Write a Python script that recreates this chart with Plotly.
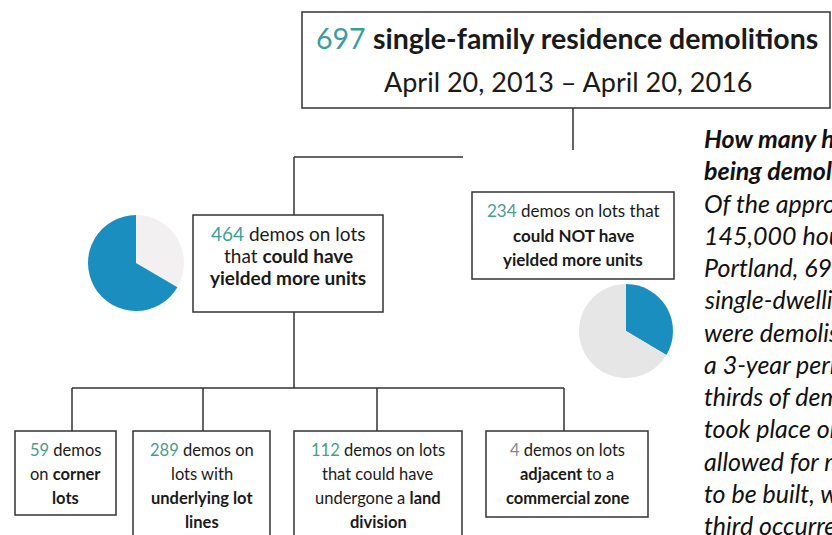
import plotly.graph_objects as go

# ---------------- data ----------------
total_demos = 697
period = "April 20, 2013 – April 20, 2016"
level1_counts = [464, 234]
level1_rest = [233, 463]          # remaining slice of each pie
level2_counts = [59, 289, 112, 4]

right_lines = [
    "How many homes are", "being demolished?",
    "Of the approximately", "145,000 houses in", "Portland, 697",
    "single-dwelling houses", "were demolished over", "a 3-year period. Two-",
    "thirds of demolitions", "took place on lots that", "allowed for more units",
    "to be built, while one-", "third occurred on lots",
]
right_bold = [True, True] + [False] * 11

# ---------------- style ----------------
FONT = "Lato"
TEAL = "#3a9e9a"
NUMC = "#4d9c8a"
BLUE = "#1b8ec0"
LINE = "#333333"
TXT = "#1a1a1a"
W, H = 832, 535


def num(n, c=TEAL):
    return f"<span style='color:{c}'>{n}</span>"


fig = go.Figure()
fig.add_trace(go.Scatter(x=[None], y=[None], showlegend=False, hoverinfo="skip"))


def pie_domain(cx, cy, r):
    return dict(x=[(cx - r) / W, (cx + r) / W], y=[1 - (cy + r) / H, 1 - (cy - r) / H])


# left pie: grey slice first (12 -> 4 o'clock), then blue share
fig.add_trace(go.Pie(values=[level1_rest[0], level1_counts[0]], sort=False,
                     direction="clockwise", rotation=0,
                     marker=dict(colors=["#f2f0f0", BLUE], line=dict(width=0)),
                     textinfo="none", hoverinfo="skip", showlegend=False,
                     domain=pie_domain(136, 263, 48)))
fig.add_trace(go.Pie(values=[level1_counts[1], level1_rest[1]], sort=False,
                     direction="clockwise", rotation=0,
                     marker=dict(colors=[BLUE, "#e6e6e6"], line=dict(width=0)),
                     textinfo="none", hoverinfo="skip", showlegend=False,
                     domain=pie_domain(626, 331, 47)))

shapes = []


def box(x0, y0, x1, y1):
    shapes.append(dict(type="rect", xref="x", yref="y", x0=x0, y0=y0, x1=x1, y1=y1,
                       line=dict(color=LINE, width=1.5), fillcolor="rgba(255,255,255,0)",
                       layer="above"))


def seg(x0, y0, x1, y1):
    shapes.append(dict(type="line", xref="x", yref="y", x0=x0, y0=y0, x1=x1, y1=y1,
                       line=dict(color=LINE, width=1.5), layer="above"))


# boxes
box(302, 12, 830, 108)
box(193, 215, 383, 312)
box(472, 192, 674, 279)
box(15, 431, 116, 515)
box(133, 431, 270, 560)
box(294, 431, 462, 560)
box(486, 431, 648, 517)

# connectors
seg(573, 108, 573, 150)
seg(294, 157, 463, 157)
seg(294, 157, 294, 215)
seg(294, 312, 294, 388)
seg(72, 388, 564, 388)
for xv in [72, 203, 377, 564]:
    seg(xv, 388, xv, 431)

ann = []


def txt(x, y, s, size, color=TXT, anchor="center"):
    ann.append(dict(xref="x", yref="y", x=x, y=y, text=s, showarrow=False,
                    xanchor=anchor, yanchor="middle",
                    font=dict(family=FONT, size=size, color=color)))


# title
txt(567, 38, f"{num(total_demos)} <b>single-family residence demolitions</b>", 28.5)
txt(568, 81, period, 27)

# level 1
for y, s in zip([233, 255, 277], [f"{num(level1_counts[0])} demos on lots",
                                  "that <b>could have</b>", "<b>yielded more units</b>"]):
    txt(288, y, s, 19)
for y, s in zip([210, 235, 259], [f"{num(level1_counts[1], NUMC)} demos on lots that",
                                  "<b>could NOT have</b>", "<b>yielded more units</b>"]):
    txt(573, y, s, 17)

# level 2
l2 = [
    (65.5, [f"{num(level2_counts[0], NUMC)} demos", "on <b>corner</b>", "<b>lots</b>"]),
    (201.5, [f"{num(level2_counts[1], NUMC)} demos on", "lots with", "<b>underlying lot</b>", "<b>lines</b>"]),
    (378, [f"{num(level2_counts[2], NUMC)} demos on lots", "that could have", "undergone a <b>land</b>", "<b>division</b>"]),
    (567, [f"{num(level2_counts[3], '#888888')} demos on lots", "<b>adjacent</b> to a", "<b>commercial zone</b>"]),
]
for cx, lines in l2:
    for i, s in enumerate(lines):
        txt(cx, 450 + 24 * i, s, 16.5)

# right narrative (clipped by page edge, as in the source)
for i, (s, b) in enumerate(zip(right_lines, right_bold)):
    s2 = f"<b><i>{s}</i></b>" if b else f"<i>{s}</i>"
    txt(702, 138 + 32.25 * i, s2, 25, color="#111111", anchor="left")

fig.update_layout(
    width=W, height=H, margin=dict(l=0, r=0, t=0, b=0),
    paper_bgcolor="white", plot_bgcolor="white",
    xaxis=dict(range=[0, W], visible=False, fixedrange=True, domain=[0, 1]),
    yaxis=dict(range=[H, 0], visible=False, fixedrange=True, domain=[0, 1]),
    shapes=shapes, annotations=ann, showlegend=False,
)

fig.write_html("out.html")
